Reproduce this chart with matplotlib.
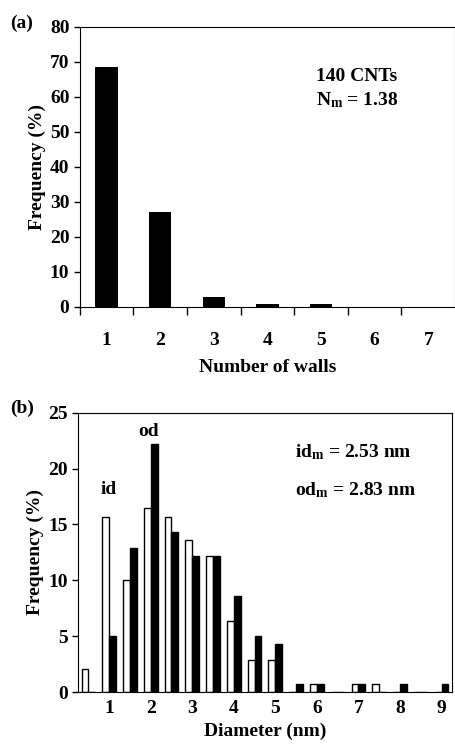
import numpy as np
import matplotlib.pyplot as plt

plt.rcParams['font.family'] = ['Liberation Serif', 'DejaVu Serif']
plt.rcParams['font.weight'] = 'bold'
plt.rcParams['axes.labelweight'] = 'bold'
plt.rcParams['mathtext.fontset'] = 'custom'
plt.rcParams['mathtext.rm'] = 'Liberation Serif:bold'
plt.rcParams['mathtext.bf'] = 'Liberation Serif:bold'
plt.rcParams['mathtext.it'] = 'Liberation Serif:bold'

# (a) number of walls
walls = [1, 2, 3, 4, 5, 6, 7]
wall_freq = [68.6, 27.1, 2.9, 0.7, 0.7, 0.0, 0.0]

# (b) diameter distribution, bins of 0.5 nm
diam_bins = [0.5, 1.0, 1.5, 2.0, 2.5, 3.0, 3.5, 4.0, 4.5,
             5.0, 5.5, 6.0, 6.5, 7.0, 7.5, 8.0, 8.5, 9.0]
id_freq = [2.1, 15.7, 10.0, 16.5, 15.7, 13.6, 12.2, 6.4, 2.9,
           2.9, 0.0, 0.7, 0.0, 0.7, 0.7, 0.0, 0.0, 0.0]
od_freq = [0.0, 5.0, 12.9, 22.2, 14.3, 12.2, 12.2, 8.6, 5.0,
           4.3, 0.7, 0.7, 0.0, 0.7, 0.0, 0.7, 0.0, 0.7]
diam_ticks = [1, 2, 3, 4, 5, 6, 7, 8, 9]

fs = 14
fig = plt.figure(figsize=(4.56, 7.45), dpi=100)

# ---- panel (a)
ax1 = fig.add_axes([0.175, 0.588, 0.823, 0.376])
xa = np.arange(len(walls))
ax1.bar(xa, wall_freq, width=0.42, color='black', linewidth=0)
ax1.set_xlim(-0.5, len(walls) - 0.5)
ax1.set_ylim(0, 80)
ax1.set_yticks(range(0, 81, 10))
# ticks sit between the categories, labels in the middle
ax1.set_xticks(xa - 0.5, minor=False)
ax1.set_xticklabels([])
ax1.set_xticks(xa, minor=True)
ax1.set_xticklabels([str(w) for w in walls], minor=True)
ax1.tick_params(axis='x', which='major', direction='out', length=6, width=1)
ax1.tick_params(axis='x', which='minor', length=0, pad=18, labelsize=fs)
ax1.tick_params(axis='y', direction='out', length=4, width=1, labelsize=fs)
ax1.set_ylabel('Frequency (%)', fontsize=fs, labelpad=3)
ax1.set_xlabel('Number of walls', fontsize=fs, labelpad=7)
ax1.text(3.9, 64.5, '140 CNTs', fontsize=fs, fontweight='bold')
ax1.text(3.9, 57.5, 'N$_\\mathrm{m}$ = 1.38', fontsize=fs, fontweight='bold')
fig.text(0.022, 0.963, '(a)', fontsize=fs, fontweight='bold')

# ---- panel (b)
ax2 = fig.add_axes([0.171, 0.071, 0.82, 0.375])
xb = np.arange(len(diam_bins))
w = 0.33
ax2.bar(xb - w / 2, id_freq, width=w, color='white', edgecolor='black', linewidth=1)
ax2.bar(xb + w / 2, od_freq, width=w, color='black', edgecolor='black', linewidth=1)
ax2.set_xlim(-0.5, len(diam_bins) - 0.5)
ax2.set_ylim(0, 25)
ax2.set_yticks(range(0, 26, 5))
tick_pos = [diam_bins.index(float(t)) for t in diam_ticks]
ax2.set_xticks(tick_pos)
ax2.set_xticklabels([str(t) for t in diam_ticks])
ax2.tick_params(axis='x', length=0, pad=6, labelsize=fs)
ax2.tick_params(axis='y', direction='out', length=4, width=1, labelsize=fs)
ax2.set_ylabel('Frequency (%)', fontsize=fs, labelpad=3)
ax2.set_xlabel('Diameter (nm)', fontsize=fs, labelpad=4)
ax2.text(tick_pos[0], 18.1, 'id', ha='center', va='center', fontsize=fs, fontweight='bold')
ax2.text(tick_pos[1] - 0.1, 23.3, 'od', ha='center', va='center', fontsize=fs, fontweight='bold')
ax2.text(0.58, 21.5 / 25, 'id$_\\mathrm{m}$ = 2.53 nm', transform=ax2.transAxes,
         fontsize=fs, fontweight='bold', va='center')
ax2.text(0.58, 18.1 / 25, 'od$_\\mathrm{m}$ = 2.83 nm', transform=ax2.transAxes,
         fontsize=fs, fontweight='bold', va='center')
fig.text(0.022, 0.446, '(b)', fontsize=fs, fontweight='bold')

fig.savefig('out.png', dpi=100)
